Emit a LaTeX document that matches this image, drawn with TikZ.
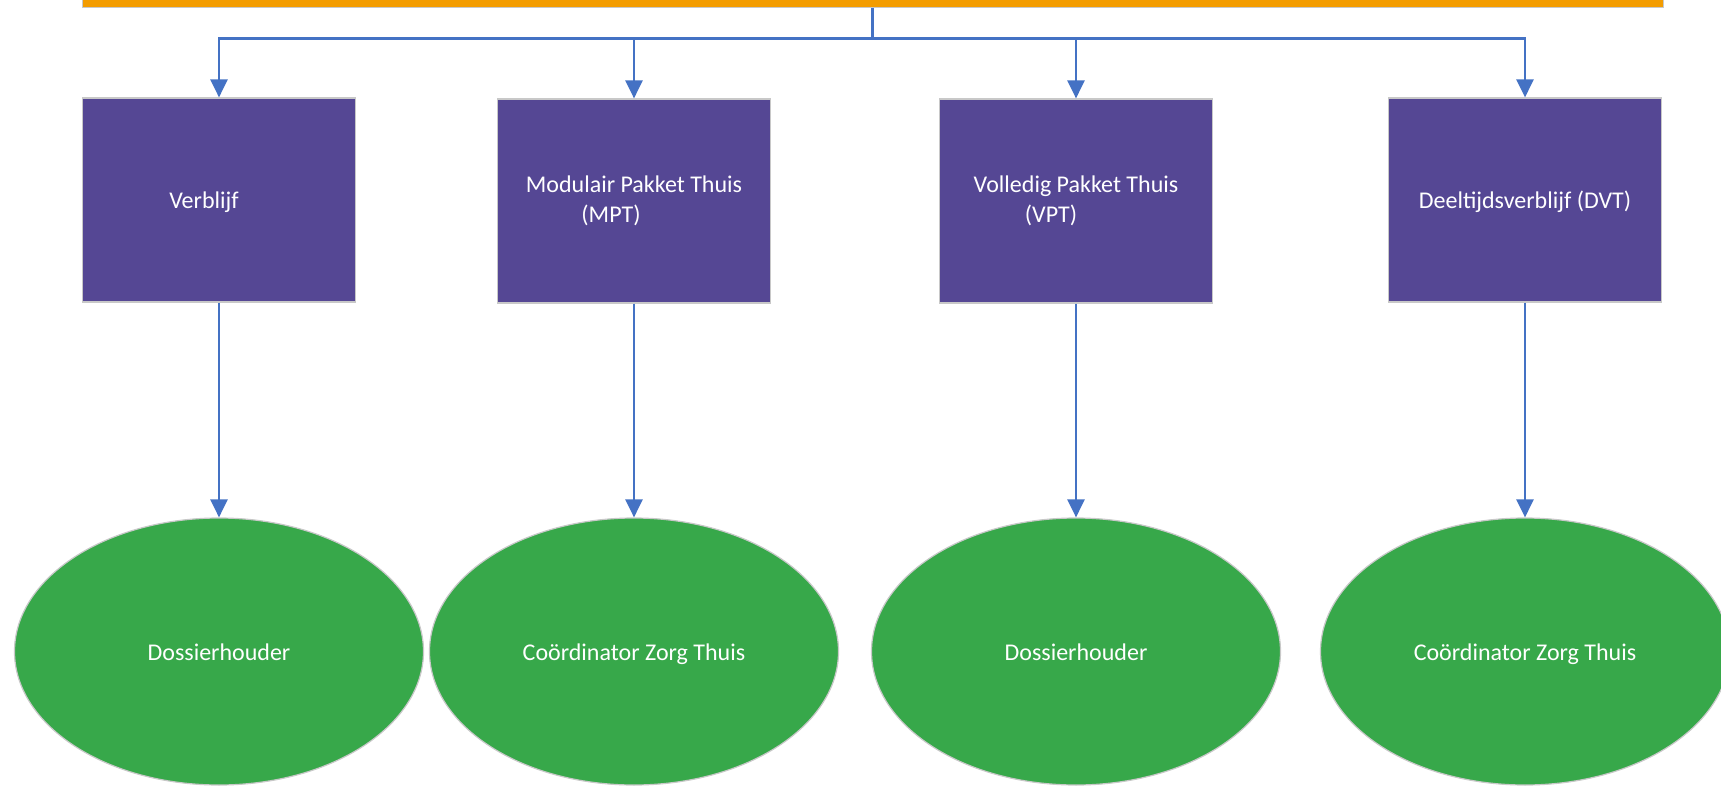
\documentclass[tikz,border=0pt]{standalone}
\usepackage{fontspec}
\setmainfont{Carlito}
\usetikzlibrary{arrows.meta,shapes.geometric}
\definecolor{barorange}{HTML}{F39C00}
\definecolor{boxpurple}{HTML}{554794}
\definecolor{ellgreen}{HTML}{37A84A}
\definecolor{linkblue}{HTML}{4472C4}
\definecolor{edgegray}{HTML}{C8C8C8}
\begin{document}
\begin{tikzpicture}[x=1pt,y=-1pt,
  topbar/.style={rectangle,fill=barorange,draw=edgegray,line width=1pt,minimum width=1581pt,minimum height=35pt,inner sep=0pt},
  catbox/.style={rectangle,fill=boxpurple,draw=edgegray,line width=1.2pt,minimum width=273pt,minimum height=204pt,inner sep=0pt,
    text=white,align=center,font=\fontsize{24}{30}\selectfont},
  onelinebox/.style={catbox,text height=20pt,text depth=2pt},
  rolebox/.style={ellipse,fill=ellgreen,draw=edgegray,line width=1.2pt,minimum width=409pt,minimum height=267pt,inner sep=0pt,
    text=white,font=\fontsize{24}{30}\selectfont,text height=20pt,text depth=2pt},
  link/.style={draw=linkblue,line width=2.4pt},
  arr/.style={link,-{Triangle[length=18pt,width=17pt]}}
]
\useasboundingbox (0,0) rectangle (1721,786);
\fill[white] (0,0) rectangle (1721,786);

\node[topbar] (bar) at (872.5,-10) {};

\node[onelinebox] (b1) at (219,200) {Verblijf\hspace*{30pt}};
\node[catbox] (b2) at (634,201) {Modulair Pakket Thuis\\(MPT)\hspace*{46pt}};
\node[catbox] (b3) at (1076,201) {Volledig Pakket Thuis\\(VPT)\hspace*{50pt}};
\node[onelinebox] (b4) at (1525,200) {Deeltijdsverblijf (DVT)};

\node[rolebox] (e1) at (219,651.5) {Dossierhouder};
\node[rolebox] (e2) at (634,651.5) {Coördinator Zorg Thuis};
\node[rolebox] (e3) at (1076,651.5) {Dossierhouder};
\node[rolebox] (e4) at (1525,651.5) {Coördinator Zorg Thuis};

\draw[link] (bar.south) -- ++(0,30.5) coordinate (hub);
\draw[arr] (hub) -| (b1.north);
\draw[arr] (hub) -| (b2.north);
\draw[arr] (hub) -| (b3.north);
\draw[arr] (hub) -| (b4.north);

\draw[arr] (b1.south) -- (e1.north);
\draw[arr] (b2.south) -- (e2.north);
\draw[arr] (b3.south) -- (e3.north);
\draw[arr] (b4.south) -- (e4.north);
\end{tikzpicture}
\end{document}
